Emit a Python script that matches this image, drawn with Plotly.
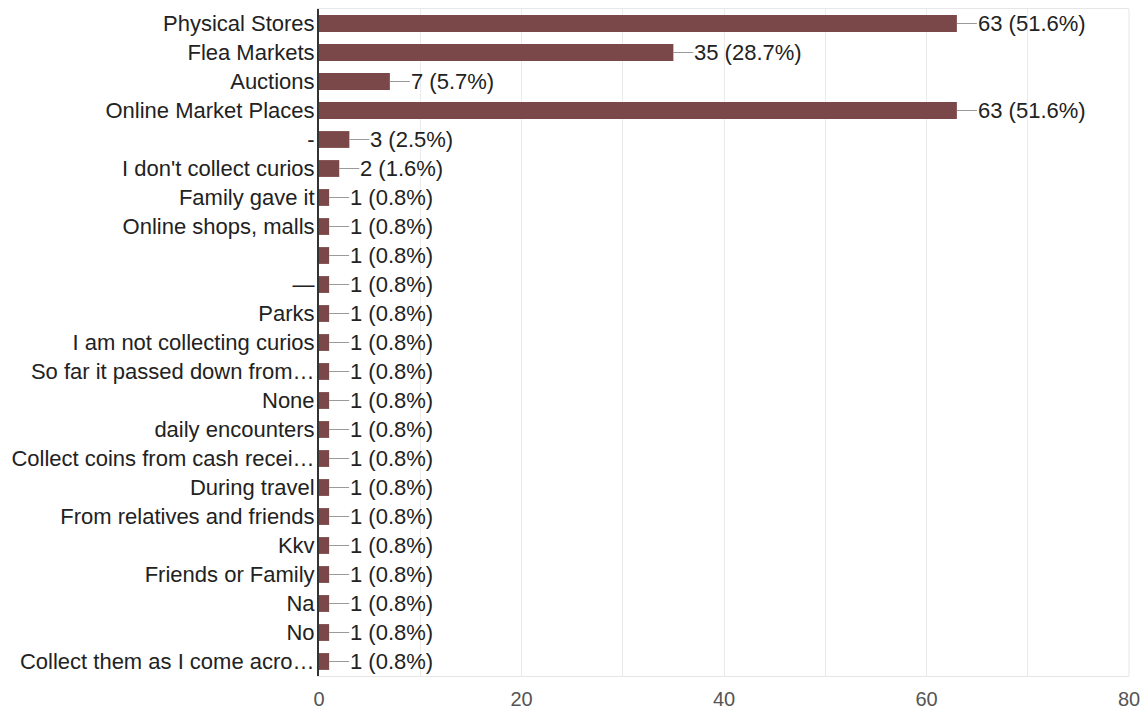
import plotly.graph_objects as go

categories = [
    "Physical Stores", "Flea Markets", "Auctions", "Online Market Places", "-",
    "I don't collect curios", "Family gave it", "Online shops, malls", " ", "—",
    "Parks", "I am not collecting curios", "So far it passed down from…", "None",
    "daily encounters", "Collect coins from cash recei…", "During travel",
    "From relatives and friends", "Kkv", "Friends or Family", "Na", "No",
    "Collect them as I come acro…",
]
counts = [63, 35, 7, 63, 3, 2, 1, 1, 1, 1, 1, 1, 1, 1, 1, 1, 1, 1, 1, 1, 1, 1, 1]
percents = [51.6, 28.7, 5.7, 51.6, 2.5, 1.6, 0.8, 0.8, 0.8, 0.8, 0.8, 0.8, 0.8, 0.8,
            0.8, 0.8, 0.8, 0.8, 0.8, 0.8, 0.8, 0.8, 0.8]
x_ticks = [0, 20, 40, 60, 80]

FONT = "Liberation Sans, Arial, sans-serif"
positions = list(range(len(categories)))

fig = go.Figure()
fig.add_trace(go.Bar(
    x=counts, y=positions, orientation="h", width=0.58,
    marker=dict(color="#7a4848", line=dict(width=0)),
    hoverinfo="skip",
))

for pos, c, p in zip(positions, counts, percents):
    fig.add_annotation(
        x=c, y=pos, xref="x", yref="y",
        text=f"{c} ({p}%)",
        showarrow=True, arrowhead=0, arrowwidth=1, arrowcolor="#9a9a9a",
        ax=20, ay=0, axref="pixel", ayref="pixel",
        xanchor="left", yanchor="middle", borderpad=0, standoff=0,
        font=dict(family=FONT, size=22, color="#222222"),
    )

fig.update_layout(
    width=1143, height=710,
    margin=dict(l=319, r=14, t=9, b=34, autoexpand=False),
    paper_bgcolor="white", plot_bgcolor="white",
    showlegend=False, bargap=0.4,
    font=dict(family=FONT),
)
fig.update_xaxes(
    range=[0, 80], tickvals=x_ticks, automargin=False,
    showgrid=True, gridcolor="#ebebeb", gridwidth=1,
    showline=True, linecolor="#e6e6e6", linewidth=1, mirror=True,
    zeroline=False, ticks="", ticklabelstandoff=5,
    tickfont=dict(family=FONT, size=20, color="#555555"),
    minor=dict(dtick=10, showgrid=True, gridcolor="#ebebeb", gridwidth=1),
)
fig.update_yaxes(
    range=[22.5, -0.5], tickvals=positions, ticktext=categories, automargin=False,
    showgrid=False, zeroline=False,
    showline=True, linecolor="#333333", linewidth=2,
    ticks="", ticklabelstandoff=-2,
    tickfont=dict(family=FONT, size=22, color="#222222"),
)
fig.add_shape(type="line", xref="paper", yref="paper", x0=1, x1=1, y0=0, y1=1,
              line=dict(color="#e6e6e6", width=1))

fig.write_html("out.html")
